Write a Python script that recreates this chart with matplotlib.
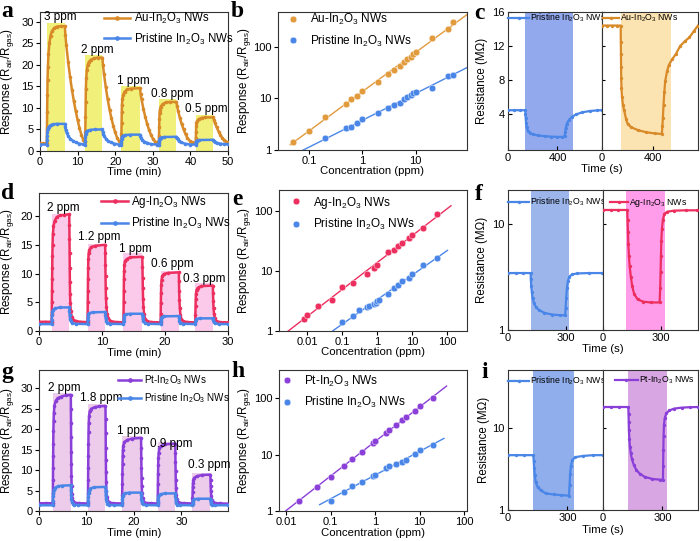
import numpy as np
import matplotlib
matplotlib.use('Agg')
import matplotlib.pyplot as plt

plt.rcParams['font.family'] = ['Liberation Sans', 'DejaVu Sans']
plt.rcParams['mathtext.fontset'] = 'custom'
plt.rcParams['mathtext.rm'] = 'Liberation Sans'
plt.rcParams['mathtext.it'] = 'Liberation Sans:italic'
plt.rcParams['mathtext.bf'] = 'Liberation Sans:bold'
plt.rcParams['axes.linewidth'] = 0.8
plt.rcParams['axes.edgecolor'] = '#333333'
plt.rcParams['xtick.labelsize'] = 8
plt.rcParams['ytick.labelsize'] = 8
plt.rcParams['xtick.major.size'] = 3
plt.rcParams['ytick.major.size'] = 3
plt.rcParams['xtick.major.pad'] = 1.2
plt.rcParams['ytick.major.pad'] = 1.5
plt.rcParams['xtick.minor.size'] = 1.5
plt.rcParams['ytick.minor.size'] = 1.5

# ======================= DATA =======================
# ---- panel a : Au-In2O3 vs pristine, response vs time (min)
a_pulse_on = [1.8, 12.0, 21.6, 31.6, 41.4]
a_pulse_off = [6.6, 16.6, 26.6, 36.3, 46.1]
a_pulse_top = [29.7, 22.3, 15.1, 12.0, 8.4]
a_ppm = ['3 ppm', '2 ppm', '1 ppm', '0.8 ppm', '0.5 ppm']
a_au = [(0, 1.8), (0.8, 1.8), (1.8, 1.8),
        (1.85, 5), (1.9, 9), (1.95, 13), (2.0, 16.5), (2.1, 19.5), (2.25, 22.5), (2.5, 25), (2.8, 26.8),
        (3.2, 27.9), (3.8, 28.6), (4.5, 28.9), (5.5, 29.0), (6.6, 29.0),
        (6.75, 27.0), (7.0, 24.6), (7.5, 20.6), (8.0, 17.2), (8.5, 14.2), (9.0, 11.6), (9.5, 9.3), (10, 7.2),
        (10.5, 5.3), (11, 3.8), (11.5, 2.6), (12.0, 2.0),
        (12.05, 4.5), (12.1, 8), (12.15, 11.5), (12.2, 14.5), (12.3, 17), (12.45, 18.8), (12.7, 20), (13.0, 20.7),
        (13.5, 21.2), (14.3, 21.5), (15.3, 21.7), (16.6, 21.7),
        (16.75, 20), (17.0, 18), (17.5, 14.8), (18, 12), (18.5, 9.6), (19, 7.6), (19.5, 5.8), (20, 4.3),
        (20.5, 3.1), (21, 2.3), (21.6, 1.9),
        (21.65, 4), (21.7, 6.5), (21.75, 9), (21.8, 10.8), (21.9, 12), (22.1, 13), (22.5, 13.8), (23.2, 14.3),
        (24.2, 14.5), (26.6, 14.6),
        (26.75, 13.3), (27.0, 12), (27.5, 9.8), (28, 7.9), (28.5, 6.3), (29, 4.9), (29.5, 3.8), (30, 2.9),
        (30.6, 2.2), (31.6, 1.9),
        (31.65, 3.5), (31.7, 5.5), (31.75, 7.5), (31.8, 8.8), (31.9, 9.6), (32.1, 10.3), (32.6, 10.9),
        (33.5, 11.3), (34.5, 11.4), (36.3, 11.4),
        (36.45, 10.5), (36.7, 9.4), (37.2, 7.7), (37.7, 6.2), (38.2, 5.0), (38.7, 3.9), (39.2, 3.0),
        (39.8, 2.4), (40.5, 2.0), (41.4, 1.8),
        (41.45, 3), (41.5, 4.5), (41.55, 5.7), (41.6, 6.4), (41.8, 7.0), (42.2, 7.4), (43, 7.7), (44, 7.8),
        (46.1, 7.8),
        (46.25, 7.3), (46.5, 6.6), (47, 5.5), (47.5, 4.5), (48, 3.7), (48.5, 3.0), (49, 2.5), (49.5, 2.2),
        (50, 2.0)]
a_pr = [(0, 1.5), (1.8, 1.5),
        (1.85, 2.5), (1.9, 3.5), (1.95, 4.4), (2.05, 5.1), (2.3, 5.6), (2.8, 6.0), (3.5, 6.2), (4.5, 6.3),
        (6.6, 6.3), (6.7, 5.6), (6.85, 4.9), (7.1, 4.2), (7.5, 3.5), (8, 2.9), (8.7, 2.4), (9.5, 2.0),
        (10.5, 1.7), (11.5, 1.55), (12.0, 1.5),
        (12.05, 2.3), (12.1, 3.2), (12.15, 3.9), (12.25, 4.4), (12.6, 4.7), (13.3, 4.9), (14.5, 5.0),
        (16.6, 5.0), (16.7, 4.5), (16.85, 3.9), (17.1, 3.4), (17.5, 2.9), (18, 2.4), (18.8, 2.0),
        (19.8, 1.7), (21, 1.5), (21.6, 1.5),
        (21.65, 2.2), (21.7, 2.8), (21.8, 3.3), (22.0, 3.5), (22.6, 3.7), (24, 3.8), (26.6, 3.8),
        (26.7, 3.4), (26.9, 3.0), (27.2, 2.6), (27.7, 2.2), (28.5, 1.9), (29.5, 1.6), (31, 1.5), (31.6, 1.5),
        (31.65, 2.1), (31.7, 2.6), (31.8, 2.9), (32.1, 3.1), (33, 3.25), (36.3, 3.3), (36.4, 3.0),
        (36.6, 2.7), (37, 2.3), (37.6, 2.0), (38.5, 1.7), (40, 1.5), (41.4, 1.5),
        (41.45, 1.9), (41.5, 2.2), (41.7, 2.4), (42.3, 2.55), (46.1, 2.6), (46.2, 2.4), (46.5, 2.1),
        (47, 1.9), (48, 1.7), (49, 1.6), (50, 1.55)]

# ---- panel b : response vs concentration (ppm)
b_conc_au = [0.05, 0.1, 0.2, 0.5, 0.6, 0.8, 1, 2, 3, 4, 5, 6, 7, 8, 9, 10, 20, 40, 50]
b_resp_au = [1.45, 2.37, 4.4, 7.65, 9.6, 11.3, 13.9, 20.4, 29, 36, 42.8, 50.3, 57.6, 63.8, 71, 80, 150, 217, 300]
b_conc_pr = [0.2, 0.5, 0.6, 0.8, 1, 2, 3, 4, 5, 6, 7, 8, 9, 10, 20, 40, 50]
b_resp_pr = [1.68, 2.7, 2.83, 3.28, 3.98, 5.1, 6.4, 7.3, 8.0, 9.6, 10.6, 11.6, 12.8, 13.4, 16.1, 26.7, 28.7]

# ---- panel c : resistance (MOhm) vs time (s)
c_gas_pr = (139, 525)
c_gas_au = (148, 544)
c_pr = [(0, 4.4), (50, 4.4), (100, 4.4), (140, 4.4), (141, 4.0), (143, 3.5), (146, 2.9), (150, 2.4),
        (160, 2.0), (175, 1.75), (200, 1.55), (240, 1.42), (300, 1.33), (350, 1.28), (400, 1.25),
        (440, 1.25), (458, 1.3), (462, 1.8), (467, 2.3), (475, 2.8), (490, 3.2), (515, 3.6), (550, 3.9),
        (600, 4.15), (660, 4.3), (720, 4.38), (760, 4.4)]
c_au = [(0, 14.4), (40, 14.4), (80, 14.4), (120, 14.4), (148, 14.4), (149, 12.5), (150, 11), (151, 9.5),
        (152, 8.2), (154, 7), (158, 6), (166, 5), (175, 4.4), (190, 3.4), (202, 2.8), (230, 2.4),
        (284, 2.05), (350, 1.8), (420, 1.65), (474, 1.6), (478, 2.5), (482, 3.5), (487, 5), (493, 6.5),
        (501, 7.9), (515, 9), (528, 9.7), (555, 10.4), (583, 11), (620, 12), (660, 12.6), (692, 13),
        (730, 13.8), (760, 14.4)]

# ---- panel d : Ag-In2O3 vs pristine
d_pulse_on = [2.0, 7.7, 13.4, 19.3, 24.8]
d_pulse_off = [4.8, 10.5, 16.4, 22.2, 27.6]
d_pulse_top = [20.4, 15.2, 13.5, 10.5, 8.3]
d_ppm = ['2 ppm', '1.2 ppm', '1 ppm', '0.6 ppm', '0.3 ppm']
d_ag = [(0, 1.6), (1.0, 1.6), (2.0, 1.6),
        (2.02, 3), (2.04, 5), (2.06, 7), (2.08, 9), (2.1, 11), (2.12, 13), (2.15, 15), (2.2, 16.8),
        (2.3, 18.2), (2.5, 19.2), (2.8, 19.8), (3.3, 20.1), (4.0, 20.2), (4.8, 20.3),
        (4.82, 18.5), (4.84, 16), (4.86, 13.5), (4.88, 11), (4.9, 8.5), (4.93, 6.5), (4.97, 4.8),
        (5.05, 3.4), (5.2, 2.5), (5.45, 2.0), (5.8, 1.75), (6.5, 1.6), (7.7, 1.55),
        (7.72, 3), (7.74, 5), (7.76, 7), (7.78, 9), (7.8, 11), (7.83, 12.5), (7.88, 13.5), (8.0, 14.1),
        (8.3, 14.6), (8.9, 14.8), (10.5, 15.0),
        (10.52, 13.5), (10.54, 11.5), (10.56, 9.5), (10.59, 7.5), (10.63, 5.7), (10.7, 4.2), (10.8, 3.0),
        (11.0, 2.2), (11.3, 1.8), (11.8, 1.6), (13.4, 1.5),
        (13.42, 3), (13.44, 5), (13.46, 7), (13.48, 9), (13.51, 10.5), (13.55, 11.5), (13.65, 12.1),
        (13.9, 12.5), (14.5, 12.8), (16.4, 12.9),
        (16.42, 11.2), (16.45, 9.3), (16.48, 7.4), (16.52, 5.6), (16.58, 4.1), (16.68, 2.9), (16.85, 2.1),
        (17.2, 1.7), (17.8, 1.55), (19.3, 1.5),
        (19.32, 3), (19.34, 4.8), (19.37, 6.6), (19.4, 8.0), (19.45, 8.9), (19.55, 9.5), (19.8, 9.9),
        (20.5, 10.1), (22.2, 10.2),
        (22.22, 8.7), (22.25, 7.0), (22.29, 5.4), (22.35, 4.0), (22.45, 2.8), (22.6, 2.1), (22.9, 1.7),
        (23.5, 1.55), (24.8, 1.5),
        (24.82, 2.8), (24.85, 4.3), (24.88, 5.6), (24.92, 6.5), (25.0, 7.1), (25.2, 7.5), (25.7, 7.8),
        (27.6, 7.9),
        (27.62, 6.6), (27.66, 5.2), (27.7, 4.0), (27.78, 3.0), (27.9, 2.2), (28.1, 1.8), (28.6, 1.55),
        (30, 1.5)]
d_pr = [(0, 1.2), (2.0, 1.2), (2.03, 2.0), (2.07, 2.8), (2.12, 3.3), (2.25, 3.7), (2.6, 3.95), (3.3, 4.1),
        (4.8, 4.1), (4.83, 3.4), (4.87, 2.7), (4.93, 2.1), (5.05, 1.7), (5.3, 1.4), (5.8, 1.25), (7.7, 1.2),
        (7.73, 1.9), (7.77, 2.5), (7.83, 2.9), (8.0, 3.1), (8.5, 3.25), (10.5, 3.3), (10.53, 2.8),
        (10.58, 2.2), (10.66, 1.8), (10.85, 1.45), (11.3, 1.25), (13.4, 1.2),
        (13.43, 1.8), (13.47, 2.3), (13.55, 2.7), (13.75, 2.9), (14.5, 3.0), (16.4, 3.0), (16.43, 2.6),
        (16.48, 2.1), (16.57, 1.7), (16.8, 1.4), (17.3, 1.25), (19.3, 1.2),
        (19.33, 1.7), (19.38, 2.1), (19.47, 2.4), (19.8, 2.55), (22.2, 2.6), (22.23, 2.2), (22.3, 1.8),
        (22.45, 1.45), (22.9, 1.25), (24.8, 1.2),
        (24.83, 1.6), (24.88, 1.9), (24.98, 2.1), (25.5, 2.2), (27.6, 2.2), (27.63, 1.9), (27.7, 1.6),
        (27.9, 1.35), (28.5, 1.22), (30, 1.2)]

# ---- panel e
e_conc_ag = [0.008, 0.01, 0.02, 0.05, 0.1, 0.2, 0.5, 0.8, 1, 2, 3, 4, 5, 8, 10, 20, 50]
e_resp_ag = [1.58, 1.84, 2.6, 3.3, 5.3, 6.3, 9.0, 11.3, 12.5, 20.3, 22.4, 26.2, 28.6, 34.6, 39.3, 52, 86.7]
e_conc_pr = [0.1, 0.2, 0.3, 0.5, 0.6, 0.8, 0.9, 1, 1.1, 2, 3, 4, 5, 8, 10, 20, 50]
e_resp_pr = [1.43, 1.8, 2.2, 2.47, 2.65, 2.8, 2.95, 3.1, 3.25, 4.1, 5.2, 5.8, 6.7, 7.5, 9.0, 12.5, 16.5]

# ---- panel f
f_gas_pr = (118, 320)
f_gas_ag = (120, 325)
f_pr = [(0, 3.45), (40, 3.45), (80, 3.45), (118, 3.45), (119, 3.0), (121, 2.6), (124, 2.3), (128, 2.0),
        (135, 1.8), (145, 1.65), (160, 1.55), (190, 1.45), (230, 1.4), (270, 1.38), (298, 1.38),
        (300, 1.6), (303, 2.0), (307, 2.5), (312, 2.9), (320, 3.2), (335, 3.35), (360, 3.42), (420, 3.45),
        (490, 3.45)]
f_ag = [(0, 13.6), (40, 13.6), (80, 13.6), (126, 13.6), (128, 11), (130, 8.5), (132, 6.5), (135, 5),
        (139, 4), (145, 3.2), (152, 2.6), (162, 2.2), (180, 1.95), (210, 1.85), (250, 1.82), (295, 1.82),
        (298, 2.5), (300, 3.5), (302, 5), (304, 7), (307, 9), (312, 11), (320, 12.5), (335, 13.1),
        (370, 13.4), (430, 13.5), (490, 13.5)]

# ---- panel g : Pt-In2O3 vs pristine
g_pulse_on = [2.9, 10.3, 17.5, 25.0, 32.3]
g_pulse_off = [6.7, 14.0, 21.5, 28.7, 36.1]
g_pulse_top = [28.9, 26.2, 18.3, 17.0, 9.3]
g_ppm = ['2 ppm', '1.8 ppm', '1 ppm', '0.9 ppm', '0.3 ppm']
g_pt = [(0, 1.9), (1.5, 1.9), (2.9, 1.9),
        (2.92, 4.5), (2.94, 7.5), (2.96, 10.5), (2.98, 13.5), (3.0, 16.5), (3.03, 19.5), (3.07, 22),
        (3.13, 24), (3.25, 25.8), (3.5, 26.9), (3.9, 27.6), (4.7, 28.0), (5.6, 28.3), (6.7, 28.4),
        (6.72, 25), (6.74, 21.5), (6.76, 18), (6.78, 14.5), (6.8, 11.5), (6.83, 8.5), (6.87, 6),
        (6.93, 4.2), (7.02, 3.1), (7.2, 2.4), (7.5, 2.05), (8.4, 1.9), (10.3, 1.85),
        (10.32, 4.5), (10.34, 7.5), (10.36, 10.5), (10.38, 13.5), (10.4, 16.5), (10.43, 19.3), (10.47, 21.5),
        (10.55, 23.3), (10.7, 24.4), (11.0, 25.0), (11.7, 25.4), (12.7, 25.6), (14.0, 25.7),
        (14.02, 22.5), (14.04, 19), (14.06, 15.5), (14.08, 12.5), (14.11, 9.5), (14.15, 7), (14.2, 5),
        (14.28, 3.5), (14.4, 2.6), (14.7, 2.1), (15.5, 1.9), (17.5, 1.85),
        (17.52, 4), (17.54, 6.5), (17.56, 9), (17.59, 11.5), (17.62, 13.5), (17.67, 15), (17.75, 16),
        (18.0, 16.9), (18.6, 17.4), (19.6, 17.7), (21.5, 17.9),
        (21.52, 15.5), (21.54, 13), (21.57, 10.5), (21.6, 8), (21.64, 6), (21.7, 4.3), (21.8, 3.1),
        (22.0, 2.4), (22.4, 2.0), (23.5, 1.9), (25.0, 1.85),
        (25.02, 4), (25.04, 6.5), (25.07, 9), (25.1, 11.3), (25.14, 13), (25.2, 14.3), (25.35, 15.3),
        (25.7, 15.9), (26.5, 16.3), (28.7, 16.5),
        (28.72, 14.3), (28.74, 12), (28.77, 9.7), (28.8, 7.5), (28.85, 5.6), (28.92, 4.0), (29.02, 3.0),
        (29.2, 2.3), (29.6, 2.0), (30.6, 1.9), (32.3, 1.85),
        (32.32, 3.2), (32.35, 4.6), (32.38, 5.8), (32.42, 6.8), (32.5, 7.6), (32.7, 8.1), (33.2, 8.5),
        (34.3, 8.8), (36.1, 8.9),
        (36.12, 7.6), (36.15, 6.2), (36.2, 4.8), (36.27, 3.6), (36.38, 2.7), (36.6, 2.2), (37.1, 1.95),
        (38.2, 1.85), (39.8, 1.8)]
g_pr = [(0, 1.4), (2.9, 1.4), (2.93, 2.5), (2.97, 3.6), (3.03, 4.5), (3.15, 5.2), (3.4, 5.7), (3.9, 6.0),
        (4.8, 6.2), (6.7, 6.3), (6.73, 5.2), (6.77, 4.0), (6.83, 3.0), (6.92, 2.3), (7.1, 1.8), (7.4, 1.55),
        (8.2, 1.45), (10.3, 1.4),
        (10.33, 2.4), (10.37, 3.5), (10.43, 4.4), (10.55, 5.0), (10.8, 5.5), (11.5, 5.8), (14.0, 5.9),
        (14.03, 4.9), (14.07, 3.8), (14.13, 2.9), (14.22, 2.2), (14.4, 1.75), (14.8, 1.5), (15.7, 1.42),
        (17.5, 1.4),
        (17.53, 2.1), (17.57, 2.9), (17.63, 3.6), (17.75, 4.0), (18.1, 4.3), (19.0, 4.5), (21.5, 4.5),
        (21.53, 3.8), (21.57, 3.0), (21.63, 2.4), (21.73, 1.9), (21.95, 1.6), (22.5, 1.45), (25.0, 1.4),
        (25.03, 2.1), (25.07, 2.8), (25.13, 3.4), (25.25, 3.8), (25.6, 4.1), (26.5, 4.3), (28.7, 4.3),
        (28.73, 3.6), (28.77, 2.9), (28.83, 2.3), (28.93, 1.85), (29.15, 1.58), (29.7, 1.45), (32.3, 1.4),
        (32.33, 1.8), (32.37, 2.2), (32.45, 2.6), (32.7, 2.85), (33.4, 3.0), (36.1, 3.0), (36.13, 2.6),
        (36.18, 2.1), (36.26, 1.75), (36.45, 1.5), (37.0, 1.42), (39.8, 1.4)]

# ---- panel h
h_conc_pt = [0.02, 0.05, 0.1, 0.2, 0.3, 0.5, 0.9, 1, 1.8, 2, 3, 4, 5, 8, 10, 20]
h_resp_pt = [1.51, 2.69, 4.1, 6.4, 8.4, 11.4, 16.3, 17.4, 24.6, 27, 33.3, 40.9, 46.9, 60, 74, 100]
h_conc_pr = [0.1, 0.2, 0.3, 0.5, 0.9, 1, 1.8, 2, 3, 4, 5, 8, 10, 20]
h_resp_pr = [1.51, 2.19, 2.73, 3.3, 4.2, 4.4, 5.7, 6.4, 6.9, 7.5, 8.2, 10.1, 12.2, 14.6]

# ---- panel i
i_gas_pr = (127, 335)
i_gas_pt = (128, 323)
i_pr = [(0, 4.7), (40, 4.7), (80, 4.7), (128, 4.7), (130, 4.0), (132, 3.3), (135, 2.7), (140, 2.2),
        (150, 1.9), (165, 1.75), (190, 1.6), (230, 1.55), (270, 1.52), (308, 1.5), (311, 2.0), (314, 2.8),
        (318, 3.5), (325, 4.1), (340, 4.45), (380, 4.6), (430, 4.7), (480, 4.7)]
i_pt = [(0, 18.3), (40, 18.3), (80, 18.3), (128, 18.3), (129, 15), (130, 12), (131, 9.5), (133, 7.5),
        (136, 6), (140, 5), (146, 4.2), (155, 3.6), (168, 3.1), (185, 2.8), (210, 2.55), (250, 2.4),
        (290, 2.35), (303, 2.35), (304, 3.5), (305, 5.5), (306, 8), (308, 11), (312, 13.5), (320, 15.3),
        (335, 16.6), (360, 17.5), (400, 18), (440, 18.2), (480, 18.3)]

# ======================= STYLE =======================
C_AU = '#D98A28'
C_PR = '#4A86E8'
C_AG = '#EC2F5F'
C_PT = '#8B3FD9'
LAB = 'In$_2$O$_3$ NWs'

fig = plt.figure(figsize=(7, 5.41), dpi=100)
W, H = 700.0, 541.0


def add_ax(x0, y0, x1, y1):
    return fig.add_axes([x0 / W, 1 - y1 / H, (x1 - x0) / W, (y1 - y0) / H])


def ylab(xc, y0, y1, text):
    fig.text(xc / W, 1 - (y0 + y1) / 2 / H, text, rotation=90, ha='center', va='center', fontsize=8.3)


def xlab(xc, yc, text):
    fig.text(xc / W, 1 - yc / H, text, ha='center', va='center', fontsize=8.2)


def letter(x, y, s):
    fig.text(x / W, 1 - y / H, s, family='Liberation Serif', weight='bold', fontsize=17,
             ha='left', va='top')


def ts(ax, data, color, label, ms=2.6, lw=1.8, z=3):
    arr = np.array(data)
    return ax.plot(arr[:, 0], arr[:, 1], '-o', color=color, lw=lw, ms=ms, mew=0, label=label, zorder=z)[0]


def time_panel(box, on, off, top, shade, ppm, ppm_xy, xmax, ymax, xt, yt, s1, s2, c1, l1, leg_x, leg_y,
               fs_leg, spacing):
    ax = add_ax(*box)
    ax.bar(on, top, width=np.array(off) - np.array(on), align='edge', color=shade, zorder=1, lw=0)
    h1 = ts(ax, s1, c1, l1)
    h2 = ts(ax, s2, C_PR, 'Pristine ' + LAB)
    for s, (x, y) in zip(ppm, ppm_xy):
        ax.text(x, y, s, ha='center', va='center', fontsize=8.5, zorder=5)
    ax.set_xlim(0, xmax)
    ax.set_ylim(0, ymax)
    ax.set_xticks(xt)
    ax.set_yticks(yt)
    ax.legend(handles=[h1, h2], loc='upper left', bbox_to_anchor=(leg_x, leg_y), frameon=False,
              fontsize=fs_leg, borderpad=0, borderaxespad=0, handlelength=2.3, handletextpad=0.3,
              labelspacing=spacing, markerscale=1.3)
    return ax


def conc_panel(box, xl, yl, xc1, yc1, xc2, yc2, col1, lab1, line1, line2, xticks, xticklabels,
               leg_x, leg_y):
    ax = add_ax(*box)
    ax.set_xscale('log')
    ax.set_yscale('log')
    for xc, yc, col, rng in [(xc1, yc1, col1, line1), (xc2, yc2, C_PR, line2)]:
        k, b = np.polyfit(np.log10(xc), np.log10(yc), 1)
        xs = np.array(rng)
        ax.plot(xs, 10 ** (k * np.log10(xs) + b), color=col, lw=1.0, zorder=2)
    h1 = ax.plot(xc1, yc1, 'o', ms=4.8, mfc=col1, mec='white', mew=0.3, label=lab1, zorder=3)[0]
    h2 = ax.plot(xc2, yc2, 'o', ms=4.8, mfc=C_PR, mec='white', mew=0.3, label='Pristine ' + LAB,
                 zorder=3)[0]
    ax.set_xlim(*xl)
    ax.set_ylim(*yl)
    ax.set_xticks(xticks)
    ax.set_xticklabels(xticklabels)
    ax.set_yticks([1, 10, 100])
    ax.set_yticklabels(['1', '10', '100'])
    ax.xaxis.set_minor_locator(matplotlib.ticker.NullLocator())
    ax.yaxis.set_minor_locator(matplotlib.ticker.NullLocator())
    ax.legend(handles=[h1, h2], loc='upper left', bbox_to_anchor=(leg_x, leg_y), frameon=False,
              fontsize=8.5, borderpad=0, borderaxespad=0, handlelength=1.0, handletextpad=0.9,
              labelspacing=0.55)
    return ax


def res_panel(box1, box2, xmax, yl, logy, yticks, ytl, xticks, s1, s2, c2, lab2, gas1, gas2, sh1, sh2,
              leg1, leg2):
    axs = []
    for box, s, col, lab, gas, sh, lg in [(box1, s1, C_PR, 'Pristine ' + LAB, gas1, sh1, leg1),
                                          (box2, s2, c2, lab2, gas2, sh2, leg2)]:
        ax = add_ax(*box)
        ax.axvspan(gas[0], gas[1], color=sh, lw=0, zorder=1)
        h = ts(ax, s, col, lab, ms=2.4, lw=1.6)
        ax.set_xlim(0, xmax)
        ax.set_ylim(*yl)
        if logy:
            ax.set_yscale('log')
            ax.yaxis.set_minor_locator(matplotlib.ticker.NullLocator())
        ax.set_yticks(yticks)
        ax.set_yticklabels(ytl)
        ax.set_xticks(xticks)
        ax.tick_params(direction='in', length=3, pad=2.5)
        ax.legend(handles=[h], loc='upper left', bbox_to_anchor=(lg[0], lg[1]), frameon=False,
                  fontsize=6.3, borderpad=0, borderaxespad=0, handlelength=lg[2], handletextpad=0.15)
        axs.append(ax)
    axs[1].tick_params(axis='y', labelleft=False, length=2, direction='in')
    return axs


# ---------------- panel a ----------------
time_panel((40, 12, 228, 151), a_pulse_on, a_pulse_off, a_pulse_top, '#F0F07A', a_ppm,
           [(5.5, 31.2), (15.3, 23.4), (24.9, 16.3), (35.2, 13.2), (44.3, 9.7)],
           50, 32.3, [0, 10, 20, 30, 40, 50], [0, 5, 10, 15, 20, 25, 30],
           a_au, a_pr, C_AU, 'Au-' + LAB, 0.34, 1.01, 8.3, 0.5)
ylab(8, 12, 151, 'Response (R$_\\mathrm{air}$/R$_\\mathrm{gas}$)')
xlab(134, 172, 'Time (min)')
letter(1, 1, 'a')

# ---------------- panel b ----------------
conc_panel((278, 12, 467, 150), (0.026, 92), (1, 470), b_conc_au, b_resp_au, b_conc_pr, b_resp_pr,
           '#E19A3C', 'Au-' + LAB, (0.044, 92), (0.073, 92), [0.1, 1, 10], ['0.1', '1', '10'], 0.05, 1.0)
ylab(245, 12, 150, 'Response (R$_\\mathrm{air}$/R$_\\mathrm{gas}$)')
xlab(372, 171, 'Concentration (ppm)')
letter(231, 1, 'b')

# ---------------- panel c ----------------
res_panel((508, 12, 602, 150), (602, 12, 698, 150), 760, (-0.3, 16), False, [4, 8, 12, 16],
          ['4', '8', '12', '16'], [0, 400], c_pr, c_au, C_AU, 'Au-' + LAB, c_gas_pr, c_gas_au,
          '#93A9EE', '#FBE3B2', (0.0, 1.0, 2.4), (0.01, 1.0, 1.8))
ylab(482, 12, 150, 'Resistance (MΩ)')
xlab(602, 169, 'Time (s)')
letter(474, 3, 'c')

# ---------------- panel d ----------------
time_panel((39, 193, 228, 331), d_pulse_on, d_pulse_off, d_pulse_top, '#FBCAEA', d_ppm,
           [(3.9, 21.4), (9.6, 16.4), (15.3, 14.3), (21.1, 11.6), (26.3, 9.1)],
           30, 24, [0, 10, 20, 30], [0, 5, 10, 15, 20],
           d_ag, d_pr, C_AG, 'Ag-' + LAB, 0.33, 0.99, 8.3, 0.5)
ylab(8, 193, 331, 'Response (R$_\\mathrm{air}$/R$_\\mathrm{gas}$)')
xlab(134, 353, 'Time (min)')
letter(1, 183, 'd')

# ---------------- panel e ----------------
conc_panel((279, 190, 467, 331), (0.0016, 360), (1, 220), e_conc_ag, e_resp_ag, e_conc_pr, e_resp_pr,
           C_AG, 'Ag-' + LAB, (0.0029, 126), (0.055, 100), [0.01, 0.1, 1, 10, 100],
           ['0.01', '0.1', '1', '10', '100'], 0.061, 0.968)
ylab(245, 190, 331, 'Response (R$_\\mathrm{air}$/R$_\\mathrm{gas}$)')
xlab(373, 352, 'Concentration (ppm)')
letter(232, 189, 'e')

# ---------------- panel f ----------------
res_panel((508, 190, 603, 330), (603, 190, 698, 330), 495, (1, 21), True, [1, 10], ['1', '10'], [0, 300],
          f_pr, f_ag, C_AG, 'Ag-' + LAB, f_gas_pr, f_gas_ag, '#9CB6EC', '#FF9DEB',
          (0.0, 0.96, 2.4), (0.074, 0.96, 2.0))
ylab(482, 190, 330, 'Resistance (MΩ)')
xlab(603, 349, 'Time (s)')
letter(475, 184, 'f')

# ---------------- panel g ----------------
time_panel((39, 370, 228, 511), g_pulse_on, g_pulse_off, g_pulse_top, '#EDCBEA', g_ppm,
           [(5.3, 30.2), (13.1, 27.7), (19.9, 19.5), (27.9, 16.5), (35.9, 11.2)],
           39.8, 34.5, [0, 10, 20, 30], [0, 5, 10, 15, 20, 25, 30],
           g_pt, g_pr, C_PT, 'Pt-' + LAB, 0.42, 0.975, 7.1, 0.4)
ylab(8, 370, 511, 'Response (R$_\\mathrm{air}$/R$_\\mathrm{gas}$)')
xlab(134, 533, 'Time (min)')
letter(1, 362, 'g')

# ---------------- panel h ----------------
conc_panel((279, 370, 467, 511), (0.007, 115), (1, 320), h_conc_pt, h_resp_pt, h_conc_pr, h_resp_pr,
           C_PT, 'Pt-' + LAB, (0.01, 40), (0.057, 35), [0.01, 0.1, 1, 10, 100],
           ['0.01', '0.1', '1', '10', '100'], 0.013, 0.975)
ylab(245, 370, 511, 'Response (R$_\\mathrm{air}$/R$_\\mathrm{gas}$)')
xlab(373, 533, 'Concentration (ppm)')
letter(231, 361, 'h')

# ---------------- panel i ----------------
res_panel((508, 370, 603, 510), (603, 370, 698, 510), 480, (1, 52), True, [1, 10], ['1', '10'], [0, 300],
          i_pr, i_pt, C_PT, 'Pt-' + LAB, i_gas_pr, i_gas_pt, '#8FAEEB', '#D9A6E4',
          (0.0, 0.965, 2.4), (0.126, 0.965, 2.6))
ylab(484, 370, 510, 'Resistance (MΩ)')
xlab(603, 530, 'Time (s)')
letter(481, 362, 'i')

fig.savefig('out.png', dpi=100)
